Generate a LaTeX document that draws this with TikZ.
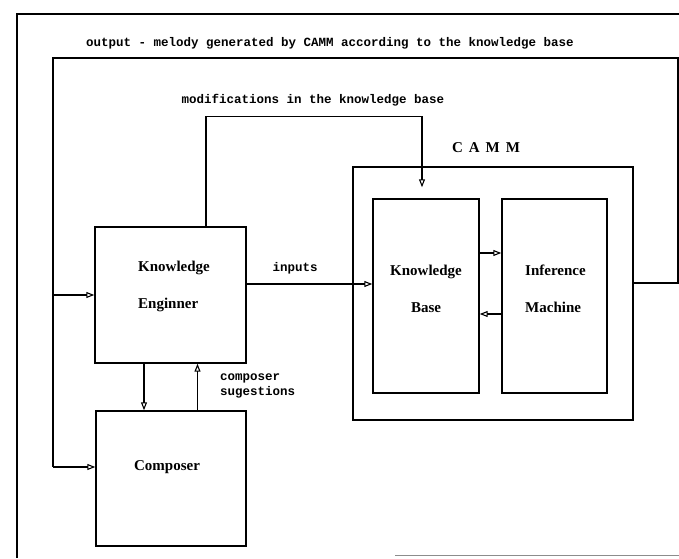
\documentclass[tikz,border=0pt]{standalone}
\usepackage{fontspec}
\setmainfont{Liberation Serif}
\setmonofont{Liberation Mono}
\usetikzlibrary{arrows.meta}
\begin{document}
\begin{tikzpicture}[x=1pt,y=-1pt,
  box/.style={draw, line width=1.4pt, inner sep=0pt},
  lbl/.style={font=\fontsize{15}{37}\selectfont\bfseries, inner sep=0pt},
  note/.style={font=\fontsize{12.5}{15}\selectfont\ttfamily\bfseries, inner sep=0pt},
  wire/.style={line width=1.1pt},
  flow/.style={wire, -{Triangle[open,length=8pt,width=6pt]}}
]
\useasboundingbox (0,0) rectangle (679,558);

% page frame
\draw[line width=1.2pt] (679,14) -- (17,14) -- (17,558);
\draw[line width=0.8pt, black!45] (395,555) -- (679,555);

% blocks
\node[box, minimum width=151pt, minimum height=136pt] (ke) at (170.5,295) {};
\node[box, minimum width=150pt, minimum height=135pt] (comp) at (171,478.5) {};
\node[box, minimum width=280pt, minimum height=253pt] (camm) at (493,293.5) {};
\node[box, minimum width=106pt, minimum height=194pt] (kb) at (426,296) {};
\node[box, minimum width=105pt, minimum height=194pt] (im) at (554.5,296) {};

% block texts
\node[lbl, anchor=west, align=left] (ketext) at (138,286.5) {Knowledge\\Enginner};
\node[lbl] (comptext) at (167,467) {Composer};
\node[lbl, align=center] (kbtext) at (426,288.5) {Knowledge\\Base};
\node[lbl, anchor=west, align=left] (imtext) at (525,288.5) {Inference\\Machine};
\node[font=\fontsize{15}{16}\selectfont\bfseries\addfontfeatures{LetterSpace=40}, inner sep=0pt] (cammtext) at (486,148) {CAMM};

% connector labels
\node[note] (outlbl) at (330,43) {output - melody generated by CAMM according to the knowledge base};
\node[note] (modlbl) at (313,100) {modifications in the knowledge base};
\node[note] (inlbl) at (295,268) {inputs};
\node[note, anchor=west, align=left] (suglbl) at (220,385.5) {composer\\sugestions};

% output feedback loop
\coordinate (otr) at (678,58);
\coordinate (otl) at (53,58);
\coordinate (compin) at ([yshift=11.5pt]comp.west);
\draw[wire] ([yshift=10.5pt]camm.east) -| (otr) -- (otl) -- (otl |- compin);
\draw[flow] (otl |- ke.west) -- (ke.west);
\draw[flow] (otl |- compin) -- (compin);

% knowledge engineer links
\draw[flow] ([yshift=11pt]ke.east) -- ([yshift=11pt]ke.east -| kb.west);
\draw[flow, shorten >=11pt] ([xshift=35.5pt]ke.north) -- ++(0,-110) -| ([xshift=-4pt]kb.north);
\draw[flow] ([xshift=-26.5pt]ke.south) -- ([xshift=-26.5pt]ke.south |- comp.north);
\draw[flow] ([xshift=26.5pt]comp.north) -- ([xshift=26.5pt]comp.north |- ke.south);

% knowledge base <-> inference machine
\draw[flow] ([yshift=43pt]kb.east) -- ([yshift=43pt]kb.east -| im.west);
\draw[flow] ([yshift=-18pt]im.west) -- ([yshift=-18pt]im.west -| kb.east);
\end{tikzpicture}
\end{document}
